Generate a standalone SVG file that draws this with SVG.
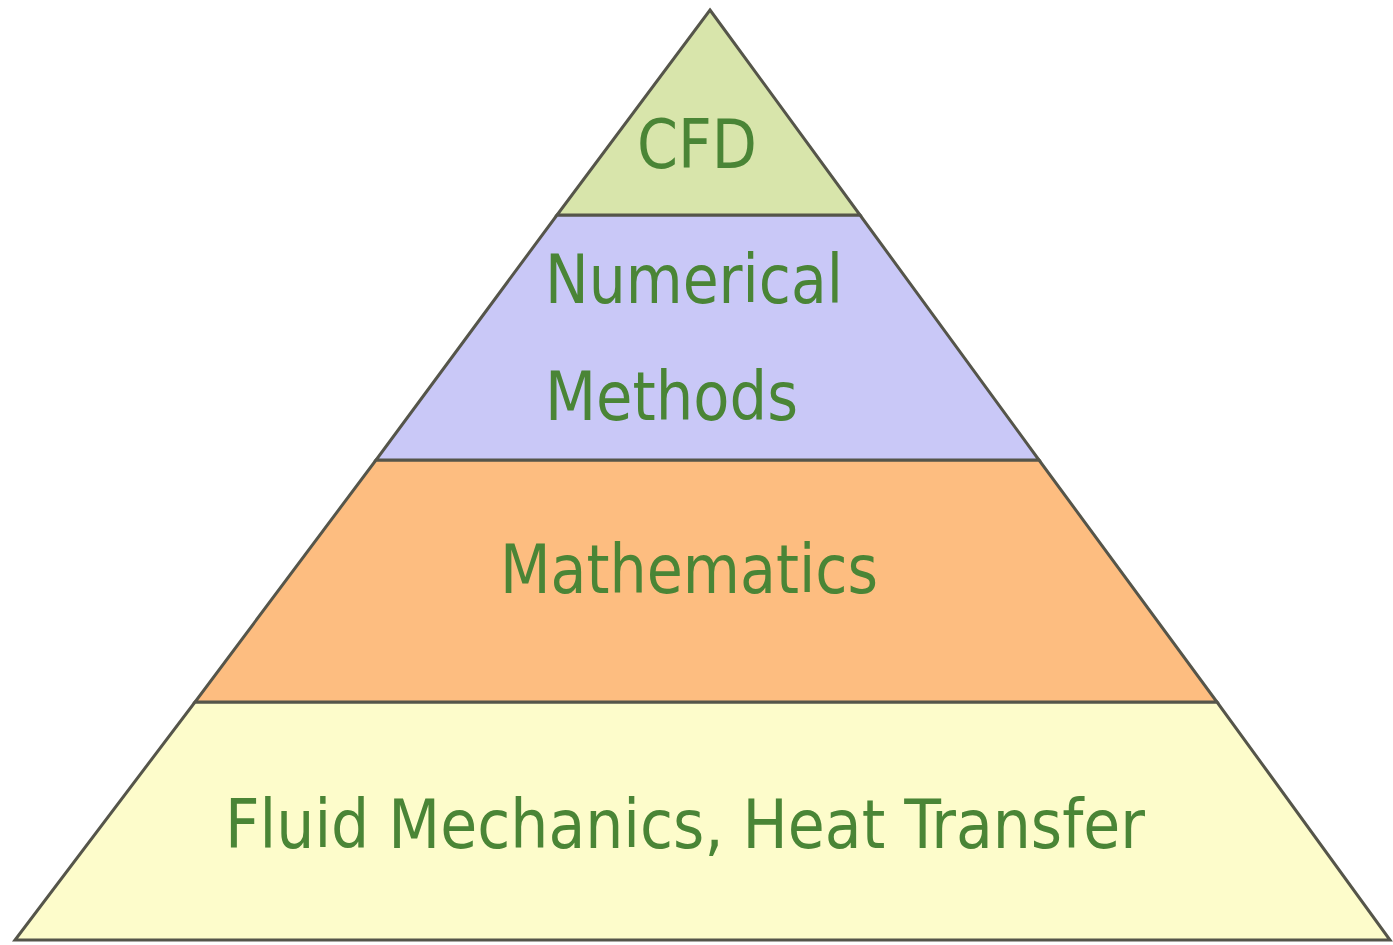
<svg xmlns="http://www.w3.org/2000/svg" width="1393" height="945" viewBox="0 0 1393 945">
<style>
.layer{stroke:#55554a;stroke-width:3;stroke-linejoin:miter}
.lbl{font-family:"DejaVu Sans Condensed","DejaVu Sans","Liberation Sans",sans-serif;font-stretch:condensed;font-size:67px;fill:#4a8536}
</style>
<rect width="1393" height="945" fill="#ffffff"/>
<g id="layer-fluid">
<polygon class="layer" points="195,702 1217,702 1390,940 15,940" fill="#fdfccb"/>
<text class="lbl" x="225" y="848" textLength="920" lengthAdjust="spacingAndGlyphs">Fluid Mechanics, Heat Transfer</text>
</g>
<g id="layer-math">
<polygon class="layer" points="376,460 1039,460 1217,702 195,702" fill="#fdbd80"/>
<text class="lbl" x="500" y="593" textLength="378" lengthAdjust="spacingAndGlyphs">Mathematics</text>
</g>
<g id="layer-numerical">
<polygon class="layer" points="557,215 860,215 1039,460 376,460" fill="#c9c8f7"/>
<text class="lbl" x="545" y="303" textLength="298" lengthAdjust="spacingAndGlyphs">Numerical</text>
<text class="lbl" x="545" y="420" textLength="253" lengthAdjust="spacingAndGlyphs">Methods</text>
</g>
<g id="layer-cfd">
<polygon class="layer" points="710,10 860,215 557,215" fill="#d8e5ab"/>
<text class="lbl" x="637" y="168" textLength="120" lengthAdjust="spacingAndGlyphs">CFD</text>
</g>
</svg>
